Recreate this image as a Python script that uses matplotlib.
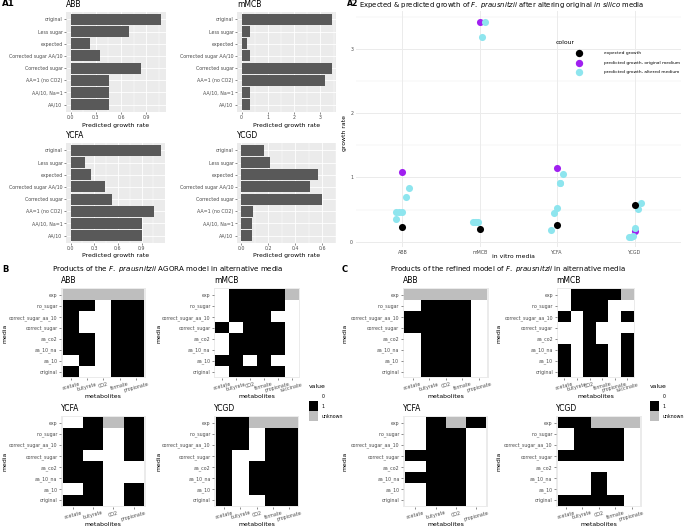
import matplotlib
matplotlib.use("Agg")
import matplotlib.pyplot as plt
import numpy as np
from matplotlib.colors import ListedColormap, BoundaryNorm
from matplotlib.patches import Rectangle
from matplotlib.lines import Line2D
from matplotlib.transforms import Affine2D

plt.rcParams['font.family'] = ['DejaVu Sans']

# ---------------- data ----------------
media = ["ABB", "mMCB", "YCFA", "YCGD"]
conditions = ["original", "Less sugar", "expected", "Corrected sugar AA/10",
              "Corrected sugar", "AA=1 (no CO2)", "AA/10, Na=1", "AA/10"]

growth_ABB = [1.08, 0.70, 0.23, 0.35, 0.84, 0.46, 0.46, 0.46]
growth_mMCB = [3.42, 0.31, 0.20, 0.31, 3.42, 3.18, 0.31, 0.31]
growth_YCFA = [1.14, 0.18, 0.265, 0.44, 0.53, 1.06, 0.91, 0.91]
growth_YCGD = [0.17, 0.21, 0.57, 0.51, 0.60, 0.09, 0.08, 0.08]

ticks_ABB = [0.0, 0.3, 0.6, 0.9]
ticks_mMCB = [0, 1, 2, 3]
ticks_YCFA = [0.0, 0.3, 0.6, 0.9]
ticks_YCGD = [0.0, 0.2, 0.4, 0.6]
ticklabels_ABB = ["0.0", "0.3", "0.6", "0.9"]
ticklabels_mMCB = ["0", "1", "2", "3"]
ticklabels_YCFA = ["0.0", "0.3", "0.6", "0.9"]
ticklabels_YCGD = ["0.0", "0.2", "0.4", "0.6"]

# horizontal jitter of the altered-medium points (order: Less sugar,
# Corrected sugar AA/10, Corrected sugar, AA=1, AA/10 Na=1, AA/10)
jitter_ABB = [0.043, -0.08, 0.087, 0.0, -0.04, -0.08]
jitter_mMCB = [-0.086, -0.043, 0.073, 0.022, -0.022, -0.06]
jitter_YCFA = [-0.086, -0.043, 0.0, 0.078, 0.035, 0.035]
jitter_YCGD = [0.0, 0.047, 0.086, -0.026, -0.047, -0.078]

media_rows = ["exp", "no_sugar", "correct_sugar_aa_10", "correct_sugar",
              "aa_co2", "aa_10_na", "aa_10", "original"]
value_levels = ["0", "1", "unknown"]

mets_5 = ["acetate", "butyrate", "CO2", "formate", "propionate"]
mets_6 = ["acetate", "butyrate", "CO2", "formate", "propionate", "succinate"]
mets_4 = ["acetate", "butyrate", "CO2", "propionate"]

# 0 = no, 1 = yes, 2 = unknown; rows follow media_rows
agora_ABB = [[2, 2, 2, 2, 2],
             [1, 1, 0, 1, 1],
             [1, 0, 0, 1, 1],
             [1, 0, 0, 1, 1],
             [1, 1, 0, 1, 1],
             [1, 1, 0, 1, 1],
             [0, 1, 0, 1, 1],
             [1, 0, 0, 1, 1]]
agora_mMCB = [[0, 1, 1, 1, 1, 2],
              [0, 1, 1, 1, 1, 0],
              [0, 1, 1, 1, 0, 0],
              [1, 0, 1, 1, 1, 0],
              [0, 1, 1, 1, 1, 0],
              [0, 1, 1, 1, 1, 0],
              [1, 1, 0, 1, 0, 0],
              [0, 1, 1, 1, 1, 0]]
agora_YCFA = [[0, 1, 2, 1],
              [1, 1, 0, 1],
              [1, 1, 0, 1],
              [1, 0, 0, 1],
              [1, 1, 0, 0],
              [1, 1, 0, 0],
              [0, 1, 0, 1],
              [1, 1, 0, 1]]
agora_YCGD = [[1, 1, 2, 2, 2],
              [1, 1, 0, 1, 1],
              [1, 1, 0, 1, 1],
              [1, 0, 0, 1, 1],
              [1, 0, 1, 1, 1],
              [1, 0, 1, 1, 1],
              [1, 0, 1, 1, 1],
              [1, 0, 0, 1, 1]]

refined_ABB = [[2, 2, 2, 2, 2],
               [0, 1, 1, 1, 0],
               [1, 1, 1, 1, 0],
               [1, 1, 1, 1, 0],
               [0, 1, 1, 1, 0],
               [0, 1, 1, 1, 0],
               [0, 1, 1, 1, 0],
               [0, 1, 1, 1, 0]]
refined_mMCB = [[0, 1, 1, 1, 1, 2],
                [0, 1, 1, 1, 0, 0],
                [1, 0, 1, 1, 0, 1],
                [0, 0, 1, 0, 0, 0],
                [0, 0, 1, 0, 0, 1],
                [1, 0, 1, 1, 0, 1],
                [1, 0, 1, 1, 0, 1],
                [1, 0, 1, 1, 0, 1]]
refined_YCFA = [[0, 1, 2, 1],
                [0, 1, 1, 0],
                [0, 1, 1, 0],
                [1, 1, 1, 0],
                [0, 1, 1, 0],
                [1, 1, 1, 0],
                [0, 1, 1, 0],
                [0, 1, 1, 0]]
refined_YCGD = [[1, 1, 2, 2, 2],
                [0, 1, 1, 1, 0],
                [0, 1, 1, 1, 0],
                [1, 1, 1, 1, 0],
                [0, 0, 0, 0, 0],
                [0, 0, 1, 0, 0],
                [0, 0, 1, 0, 0],
                [1, 1, 1, 1, 0]]

# ---------------- figure ----------------
W, H = 685, 527
fig = plt.figure(figsize=(W / 100, H / 100), dpi=100)
PX = Affine2D().scale(1 / W, -1 / H).translate(0, 1) + fig.transFigure

TICK_COL = '#4D4D4D'
TFS = 3.4      # tick font size
LFS = 4.4      # axis label font size
STFS = 5.5     # subplot title font size


def add_ax(l, t, r, b):
    return fig.add_axes([l / W, 1 - b / H, (r - l) / W, (b - t) / H])


def bar_panel(box, title, values, ticks, ticklabels, xlab_y):
    ax = add_ax(*box)
    y = np.arange(len(conditions))
    ax.set_facecolor('#EBEBEB')
    ax.barh(y, values, height=0.9, color='#595959', zorder=2)
    mx = max(values)
    ax.set_xlim(-0.05 * mx, 1.05 * mx)
    ax.set_ylim(len(conditions) - 0.4, -0.6)
    ax.set_yticks(y)
    ax.set_yticklabels(conditions, fontsize=TFS, color=TICK_COL)
    ax.set_xticks(ticks)
    ax.set_xticklabels(ticklabels, fontsize=TFS, color=TICK_COL)
    step = ticks[1] - ticks[0]
    ax.set_xticks([t + step / 2 for t in ticks], minor=True)
    ax.grid(which='major', color='white', lw=0.6, zorder=0)
    ax.grid(which='minor', axis='x', color='white', lw=0.3, zorder=0)
    ax.set_axisbelow(True)
    for s in ax.spines.values():
        s.set_visible(False)
    ax.tick_params(length=1.5, width=0.4, color='#333333', pad=1)
    ax.tick_params(which='minor', length=0)
    ax.set_xlabel('Predicted growth rate', fontsize=LFS)
    ax.xaxis.set_label_coords((box[0] + box[2]) / 2, xlab_y, transform=PX)
    ax.xaxis.label.set_va('center')
    ax.set_title(title, loc='left', fontsize=STFS, pad=3.5)
    return ax


bar_panel((66, 12, 166, 112), "ABB", growth_ABB, ticks_ABB, ticklabels_ABB, 125)
bar_panel((237, 12, 336, 112), "mMCB", growth_mMCB, ticks_mMCB, ticklabels_mMCB, 125)
bar_panel((66, 143, 165, 243), "YCFA", growth_YCFA, ticks_YCFA, ticklabels_YCFA, 256)
bar_panel((237, 143, 336, 243), "YCGD", growth_YCGD, ticks_YCGD, ticklabels_YCGD, 256)

fig.text(2, 4, "A1", transform=PX, fontsize=6.3, fontweight='bold', va='center', ha='left')

# ---------------- A2 scatter ----------------
ax2 = add_ax(356, 11, 681, 247)
all_growth = [growth_ABB, growth_mMCB, growth_YCFA, growth_YCGD]
all_jitter = [jitter_ABB, jitter_mMCB, jitter_YCFA, jitter_YCGD]
C_EXP, C_ORIG, C_ALT = 'black', '#A020F0', '#8EE5EE'
for i, (g, jit) in enumerate(zip(all_growth, all_jitter)):
    altered = [g[1], g[3], g[4], g[5], g[6], g[7]]
    ax2.scatter([i], [g[0]], s=26, color=C_ORIG, zorder=3, linewidths=0)
    ax2.scatter([i + j for j in jit], altered, s=26, color=C_ALT, zorder=4, linewidths=0)
    ax2.scatter([i], [g[2]], s=26, color=C_EXP, zorder=5, linewidths=0)
ax2.set_xlim(-0.6, 3.6)
ax2.set_ylim(-0.083, 3.59)
ax2.set_xticks(range(len(media)))
ax2.set_xticklabels(media, fontsize=TFS, color=TICK_COL)
ax2.set_yticks([0, 1, 2, 3])
ax2.set_yticklabels(["0", "1", "2", "3"], fontsize=TFS, color=TICK_COL)
ax2.set_yticks([0.5, 1.5, 2.5, 3.5], minor=True)
ax2.grid(which='major', color='#EBEBEB', lw=0.7)
ax2.grid(which='minor', axis='y', color='#EBEBEB', lw=0.35)
ax2.set_axisbelow(True)
for s in ax2.spines.values():
    s.set_visible(False)
ax2.tick_params(length=0, pad=2)
ax2.tick_params(which='minor', length=0)
ax2.set_xlabel("in vitro media", fontsize=LFS)
ax2.xaxis.set_label_coords(513, 257, transform=PX)
ax2.xaxis.label.set_va('center')
ax2.set_ylabel("growth rate", fontsize=LFS)
ax2.yaxis.set_label_coords(345, 133, transform=PX)
ax2.yaxis.label.set_va('center')

fig.text(347, 4, "A2", transform=PX, fontsize=5.6, fontweight='bold', va='center', ha='left')
fig.text(359, 4, r"Expected & predicted growth of $\it{F.\ prausnitzii}$ after altering original $\it{in\ silico}$ media",
         transform=PX, fontsize=4.95, va='center', ha='left')

# legend for A2
fig.text(556, 43, "colour", transform=PX, fontsize=4.4, va='center', ha='left')
leg_labels = ["expected growth", "predicted growth, original medium", "predicted growth, altered medium"]
for k, (lab, col) in enumerate(zip(leg_labels, [C_EXP, C_ORIG, C_ALT])):
    yy = 53.3 + 9.4 * k
    fig.add_artist(Line2D([579], [yy], marker='o', markersize=5.3, color=col,
                          markeredgewidth=0, transform=PX))
    fig.text(604, yy, lab, transform=PX, fontsize=3.2, va='center', ha='left')

# ---------------- heatmaps ----------------
cmap = ListedColormap(['white', 'black', '#BEBEBE'])
norm = BoundaryNorm([-0.5, 0.5, 1.5, 2.5], 3)


def heat_panel(box, title, mets, grid, ylab_x, xlab_y):
    ax = add_ax(*box)
    arr = np.array(grid)
    nr, nc = arr.shape
    ax.set_facecolor('#EBEBEB')
    ax.pcolormesh(np.arange(nc + 1) - 0.5, np.arange(nr + 1) - 0.5, arr,
                  cmap=cmap, norm=norm, edgecolors='none')
    ax.set_xlim(-0.6, nc - 0.4)
    ax.set_ylim(nr - 0.4, -0.6)
    ax.set_xticks(range(nc))
    ax.set_xticklabels(mets, fontsize=TFS, color=TICK_COL, rotation=15,
                       ha='center')
    ax.set_yticks(range(nr))
    ax.set_yticklabels(media_rows, fontsize=TFS, color=TICK_COL)
    for s in ax.spines.values():
        s.set_visible(False)
    ax.tick_params(length=1.5, width=0.4, color='#333333', pad=1)
    ax.set_xlabel("metabolites", fontsize=LFS)
    ax.xaxis.set_label_coords((box[0] + box[2]) / 2, xlab_y, transform=PX)
    ax.xaxis.label.set_va('center')
    ax.set_ylabel("media", fontsize=LFS)
    ax.yaxis.set_label_coords(ylab_x, (box[1] + box[3]) / 2, transform=PX)
    ax.yaxis.label.set_va('center')
    ax.set_title(title, loc='left', fontsize=STFS, pad=3.5)
    return ax


heat_panel((61, 288.3, 145.7, 378.3), "ABB", mets_5, agora_ABB, 5, 396)
heat_panel((214, 288.3, 300, 378.3), "mMCB", mets_6, agora_mMCB, 159, 396)
heat_panel((61, 416, 145.7, 506.7), "YCFA", mets_4, agora_YCFA, 5, 524)
heat_panel((214.3, 416, 299.3, 506.7), "YCGD", mets_5, agora_YCGD, 159, 524)

heat_panel((402.7, 288.3, 489, 378.3), "ABB", mets_5, refined_ABB, 345, 396)
heat_panel((556.7, 288.3, 635, 378.3), "mMCB", mets_6, refined_mMCB, 499, 396)
heat_panel((403.3, 416, 488.3, 506.7), "YCFA", mets_4, refined_YCFA, 345, 524)
heat_panel((556, 416, 641.7, 506.7), "YCGD", mets_5, refined_YCGD, 499, 524)

fig.text(2, 269, "B", transform=PX, fontsize=6.0, fontweight='bold', va='center', ha='left')
fig.text(52, 269, r"Products of the $\it{F.\ prausnitzii}$ AGORA model in alternative media",
         transform=PX, fontsize=5.15, va='center', ha='left')
fig.text(342, 269, "C", transform=PX, fontsize=6.0, fontweight='bold', va='center', ha='left')
fig.text(390, 269, r"Products of the refined model of $\it{F.\ prausnitzii}$ in alternative media",
         transform=PX, fontsize=5.0, va='center', ha='left')

# value legends for B and C
key_cols = ['white', 'black', '#BEBEBE']
for lx in (309, 650):
    fig.text(lx, 386, "value", transform=PX, fontsize=4.4, va='center', ha='left')
    for k, (lab, col) in enumerate(zip(value_levels, key_cols)):
        top = 391 + 10 * k
        fig.add_artist(Rectangle((lx, top), 9.5, 9.5, transform=PX,
                                 facecolor=col, edgecolor='none'))
        fig.text(lx + 12.5, top + 5, lab, transform=PX, fontsize=3.4,
                 va='center', ha='left')

fig.savefig("out.png", dpi=100)
